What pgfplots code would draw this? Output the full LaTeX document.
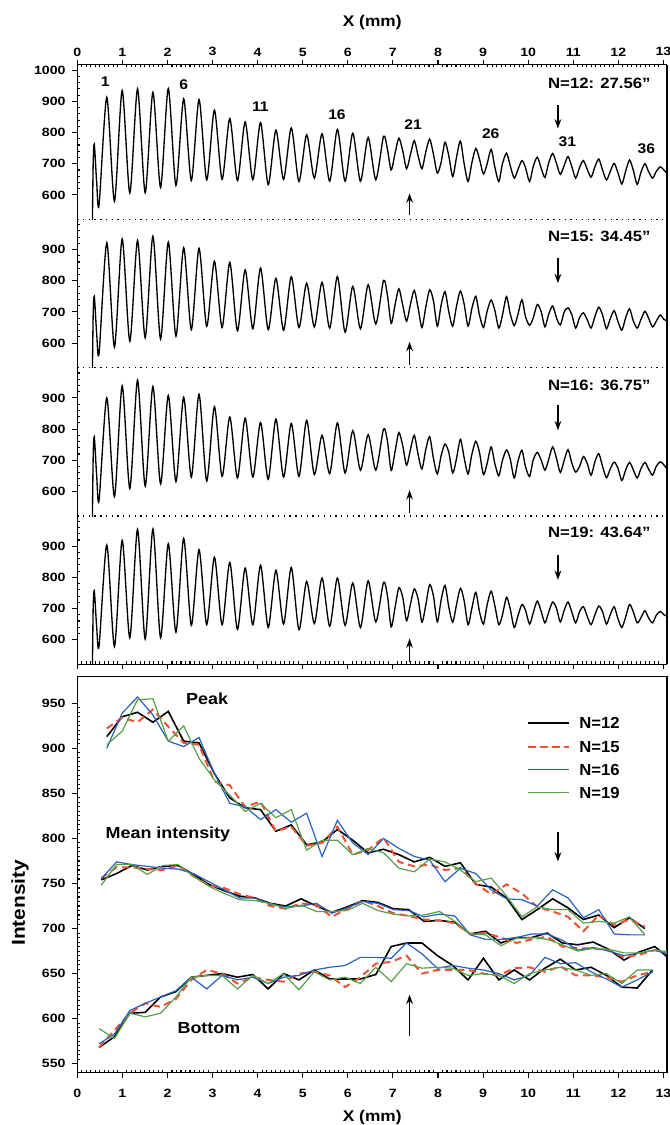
\documentclass[border=0pt]{standalone}
\usepackage{pgfplots}
\pgfplotsset{compat=1.18}
\usepackage{pgfplotstable}
\usepackage{fontspec}
\setmainfont{Liberation Sans}[FakeStretch=1.12]
\newfontfamily\tickfont{Liberation Sans}[FakeStretch=1.18]
\newfontfamily\legfont{Liberation Sans}[FakeStretch=1.04]
\usetikzlibrary{arrows.meta}
\definecolor{cred}{RGB}{238,82,52}
\definecolor{cblue}{RGB}{38,98,188}
\definecolor{cgreen}{RGB}{88,160,72}

% oscillation profiles: a = N12, b = N15, c = N16, d = N19
\pgfplotstableread{
x a b c d
0.333 480 480 480 480
0.352 700 690 710 700
0.377 763 750 775 758
0.430 640 630 650 640
0.483 568 568 572 580
0.654 913 922 900 904
0.824 580 587 583 578
0.995 935 934 939 919
1.165 606 606 609 606
1.336 940 929 957 954
1.506 607 617 617 602
1.677 929 943 937 955
1.847 624 613 624 606
2.018 941 924 908 908
2.188 630 622 631 624
2.359 908 906 902 925
2.529 646 643 646 646
2.700 906 904 912 889
2.870 648 654 633 648
3.041 872 863 872 865
3.211 650 650 648 648
3.382 845 859 839 848
3.552 646 639 643 633
3.723 834 835 835 830
3.893 649 646 646 648
4.064 832 841 821 839
4.234 633 643 639 639
4.405 808 808 832 823
4.575 650 641 646 650
4.746 815 813 818 832
4.916 643 650 648 632
5.087 793 792 828 787
5.257 654 652 654 652
5.428 796 795 780 798
5.598 644 648 657 643
5.769 810 813 820 798
5.939 644 635 659 646
6.110 798 782 795 782
6.280 644 646 668 639
6.451 784 787 782 789
6.621 649 661 668 657
6.792 788 801 800 784
6.880 745 752 760 740
6.962 680 663 667 641
7.050 735 725 730 705
7.133 782 774 789 767
7.220 740 720 745 735
7.303 684 670 684 661
7.390 730 725 735 715
7.474 774 769 780 763
7.560 725 712 718 730
7.644 684 650 672 656
7.730 738 716 735 712
7.815 779 771 776 777
7.900 730 735 705 740
7.985 670 654 656 657
8.070 705 722 715 728
8.156 769 765 752 774
8.240 725 700 725 705
8.326 659 654 659 656
8.410 720 718 705 712
8.497 773 767 767 765
8.580 700 725 708 725
8.667 643 654 656 648
8.750 702 710 718 700
8.838 749 750 761 752
8.920 715 690 725 690
9.008 667 650 654 650
9.090 700 702 690 712
9.179 746 738 743 756
9.260 690 705 690 710
9.349 643 648 650 648
9.430 700 690 700 680
9.520 734 749 733 736
9.600 695 695 705 700
9.690 654 656 643 639
9.770 680 690 695 675
9.861 710 739 732 713
9.940 688 685 680 695
10.031 643 657 648 650
10.110 690 680 700 685
10.202 721 724 725 724
10.290 685 700 700 690
10.372 656 652 668 654
10.450 700 690 700 686
10.543 733 719 743 721
10.630 700 680 705 700
10.713 666 658 661 657
10.800 695 700 700 695
10.884 723 713 734 721
10.970 690 690 690 688
11.054 654 648 662 654
11.140 688 682 680 690
11.225 710 697 712 706
11.310 682 675 690 675
11.395 657 648 652 648
11.480 690 685 695 680
11.566 715 715 721 708
11.650 680 690 680 690
11.736 648 646 644 650
11.820 675 678 672 680
11.907 701 704 694 706
11.990 672 670 675 668
12.077 635 641 635 639
12.160 675 680 668 672
12.248 712 710 693 713
12.330 680 672 670 690
12.418 634 648 643 654
12.500 672 675 672 670
12.589 700 702 693 693
12.670 675 680 672 670
12.759 654 652 652 654
12.840 675 670 680 678
12.930 690 690 695 691
13.010 680 676 685 680
13.100 665 670 668 675
}\wave

\pgfplotstableread{
x k r b g
0.654 913 922 900 904
0.995 935 934 939 919
1.336 940 929 957 954
1.677 929 943 937 955
2.018 941 924 908 908
2.359 908 906 902 925
2.700 906 904 912 889
3.041 872 863 872 865
3.382 845 859 839 848
3.723 834 835 835 830
4.064 832 841 821 839
4.405 808 808 832 823
4.746 815 813 818 832
5.087 793 792 828 787
5.428 796 795 780 798
5.769 810 813 820 798
6.110 798 782 795 782
6.451 784 787 782 789
6.792 788 801 800 784
7.133 782 774 789 767
7.474 774 769 780 763
7.815 779 771 776 777
8.156 769 765 752 774
8.497 773 767 767 765
8.838 749 750 761 752
9.179 746 738 743 756
9.520 734 749 733 736
9.861 710 739 732 713
10.202 721 724 725 724
10.543 733 719 743 721
10.884 723 713 734 721
11.225 710 697 712 706
11.566 715 715 721 708
11.907 701 704 694 706
12.248 712 710 693 713
12.589 700 702 693 693
}\peaks

\pgfplotstableread{
x k r b g
0.483 568 568 572 589
0.824 580 587 583 578
1.165 606 606 609 606
1.506 607 617 617 602
1.847 624 613 624 606
2.188 630 622 631 624
2.529 646 643 646 646
2.870 648 654 633 648
3.211 650 650 648 648
3.552 646 639 643 633
3.893 649 646 646 648
4.234 633 643 639 639
4.575 650 641 646 650
4.916 643 650 648 632
5.257 654 652 654 652
5.598 644 648 657 643
5.939 644 635 659 646
6.280 644 646 668 639
6.621 649 661 668 657
6.962 680 663 667 641
7.303 684 670 684 661
7.644 684 650 672 656
7.985 670 654 656 657
8.326 659 654 659 656
8.667 643 654 656 648
9.008 667 650 654 650
9.349 643 648 650 648
9.690 654 656 643 639
10.031 643 657 648 650
10.372 656 652 668 654
10.713 666 658 661 657
11.054 654 648 662 654
11.395 657 648 652 648
11.736 648 646 644 650
12.077 635 641 635 639
12.418 634 648 643 654
12.759 654 652 652 654
}\troughs

\pgfplotstableread{
x k r b g
0.530 754 756 755 748
0.871 761 768 774 771
1.212 770 768 771 771
1.553 765 766 769 760
1.894 769 765 767 770
2.235 770 770 766 771
2.576 760 758 761 758
2.917 749 748 752 747
3.258 742 745 743 739
3.599 736 738 734 732
3.940 734 734 734 731
4.281 728 725 727 728
4.622 725 722 724 722
4.963 733 728 725 726
5.304 725 726 728 719
5.645 718 713 717 719
5.986 724 722 723 720
6.327 731 731 730 728
6.668 729 725 728 720
7.009 722 717 721 716
7.350 721 714 720 714
7.691 708 710 713 715
8.032 709 709 716 719
8.373 707 706 714 708
8.714 694 694 693 694
9.055 697 695 688 693
9.396 684 690 688 681
9.737 690 684 690 689
10.078 690 688 694 690
10.419 695 691 694 688
10.760 684 680 687 682
11.101 682 678 676 675
11.442 685 678 679 678
11.783 677 676 675 677
12.124 665 668 670 673
12.465 674 671 673 673
12.806 680 676 676 676
13.147 666 672 671 674
}\means

\tikzset{
  dotsep/.style={line width=1pt, dash pattern=on 1pt off 3.3pt},
  arr/.style={line width=1.2pt, -{Stealth[length=7pt,width=5pt]}},
  nlab/.style={anchor=east, font=\bfseries\fontsize{11.2}{13}\selectfont},
  plab/.style={font=\bfseries\fontsize{10.5}{12}\selectfont},
  legtxt/.style={anchor=west, inner sep=0pt, font=\legfont\bfseries\fontsize{12}{14}\selectfont},
  sk/.style={black, line width=1.2pt},
  sr/.style={cred, line width=1.5pt, dash pattern=on 5.5pt off 3.5pt},
  sb/.style={cblue, line width=0.9pt},
  sg/.style={cgreen, line width=0.9pt},
}
\newcommand{\dq}{{\char34}}
\pgfplotsset{
  common/.style={
    scale only axis, width=442.3pt, xmin=0, xmax=13.08,
    xtick={0,...,13}, minor x tick num=9,
    tick align=outside, major tick length=3.75pt, minor tick length=-2.2pt,
    tick style={line width=0.8pt, black},
    axis line style={line width=1pt},
    tick label style={font=\tickfont\bfseries\fontsize{9}{10}\selectfont},
    yticklabel style={xshift=-1.5pt},
    /pgf/number format/assume math mode=true,
    /pgf/number format/1000 sep={},
    clip mode=individual,
    ytick pos=left,
  },
  panel/.style={
    common,
    separate axis lines, x axis line style={draw=none},
    ytick={600,700,800,900,1000}, minor y tick num=4,
  },
  wave/.style={line width=1pt, black, smooth, tension=0.45},
}

\begin{document}
\begin{tikzpicture}
% ---------- panel 1 ----------
\begin{axis}[panel, at={(0pt,-48.375pt)}, anchor=north west, height=116.1pt,
  ymin=522, ymax=1018, xtick pos=right, xticklabel pos=right,
  xticklabel style={yshift=-1pt}]
\addplot[wave] table[x=x,y=a] {\wave};
\draw[line width=1pt] (rel axis cs:0,1) -- (rel axis cs:1,1);
\draw[dotsep] (rel axis cs:0,0) -- (rel axis cs:1,0);
\node[nlab] at (axis cs:12.82,957) {N=12: 27.56\dq};
\node[plab] at (axis cs:0.62,963) {1};
\node[plab] at (axis cs:2.36,952) {6};
\node[plab] at (axis cs:4.06,882) {11};
\node[plab] at (axis cs:5.76,856) {16};
\node[plab] at (axis cs:7.45,827) {21};
\node[plab] at (axis cs:9.17,797) {26};
\node[plab] at (axis cs:10.87,770) {31};
\node[plab] at (axis cs:12.62,749) {36};
\draw[arr] (axis cs:10.66,888) -- (axis cs:10.66,813);
\draw[arr] (axis cs:7.37,535) -- (axis cs:7.37,605);
\end{axis}
% ---------- panel 2 ----------
\begin{axis}[panel, at={(0pt,-164.475pt)}, anchor=north west, height=111.3pt,
  ymin=521, ymax=997, xtick=\empty]
\addplot[wave] table[x=x,y=b] {\wave};
\draw[dotsep] (rel axis cs:0,0) -- (rel axis cs:1,0);
\node[nlab] at (axis cs:12.82,943) {N=15: 34.45\dq};
\draw[arr] (axis cs:10.66,873) -- (axis cs:10.66,792);
\draw[arr] (axis cs:7.37,529) -- (axis cs:7.37,604);
\end{axis}
% ---------- panel 3 ----------
\begin{axis}[panel, at={(0pt,-275.775pt)}, anchor=north west, height=111.225pt,
  ymin=521, ymax=997, xtick=\empty]
\addplot[wave] table[x=x,y=c] {\wave};
\draw[dotsep] (rel axis cs:0,0) -- (rel axis cs:1,0);
\node[nlab] at (axis cs:12.82,940) {N=16: 36.75\dq};
\draw[arr] (axis cs:10.66,877) -- (axis cs:10.66,796);
\draw[arr] (axis cs:7.37,530) -- (axis cs:7.37,604);
\end{axis}
% ---------- panel 4 ----------
\begin{axis}[panel, at={(0pt,-387pt)}, anchor=north west, height=111.225pt,
  ymin=521, ymax=997, xtick pos=left, xticklabels={}]
\addplot[wave] table[x=x,y=d] {\wave};
\draw[line width=1pt] (rel axis cs:0,0) -- (rel axis cs:1,0);
\node[nlab] at (axis cs:12.82,944) {N=19: 43.64\dq};
\draw[arr] (axis cs:10.66,872) -- (axis cs:10.66,792);
\draw[arr] (axis cs:7.37,530) -- (axis cs:7.37,604);
\end{axis}
% ---------- summary panel ----------
\begin{axis}[common, at={(0pt,-507.525pt)}, anchor=north west, height=297pt,
  ymin=540, ymax=979.5, ytick={550,600,...,950}, minor y tick num=9,
  xtick pos=left, xticklabel style={yshift=-5pt}]
\addplot[sk] table[x=x,y=k] {\peaks};
\addplot[sr] table[x=x,y=r] {\peaks};
\addplot[sb] table[x=x,y=b] {\peaks};
\addplot[sg] table[x=x,y=g] {\peaks};
\addplot[sk] table[x=x,y=k] {\means};
\addplot[sr] table[x=x,y=r] {\means};
\addplot[sb] table[x=x,y=b] {\means};
\addplot[sg] table[x=x,y=g] {\means};
\addplot[sk] table[x=x,y=k] {\troughs};
\addplot[sr] table[x=x,y=r] {\troughs};
\addplot[sb] table[x=x,y=b] {\troughs};
\addplot[sg] table[x=x,y=g] {\troughs};
% legend
\draw[sk] (axis cs:10.0,927.8) -- (axis cs:10.91,927.8);
\node[legtxt] at (axis cs:11.13,927.8) {N=12};
\draw[sr] (axis cs:10.0,901.9) -- (axis cs:10.91,901.9);
\node[legtxt] at (axis cs:11.13,901.9) {N=15};
\draw[sb] (axis cs:10.0,876.1) -- (axis cs:10.91,876.1);
\node[legtxt] at (axis cs:11.13,876.1) {N=16};
\draw[sg] (axis cs:10.0,850.9) -- (axis cs:10.91,850.9);
\node[legtxt] at (axis cs:11.13,850.9) {N=19};
\node[font=\bfseries\fontsize{12}{14}\selectfont] at (axis cs:2.88,955.5) {Peak};
\node[font=\bfseries\fontsize{12}{14}\selectfont] at (axis cs:2.01,804) {Mean intensity};
\node[font=\bfseries\fontsize{12}{14}\selectfont] at (axis cs:2.92,589.7) {Bottom};
\draw[arr] (axis cs:10.66,807.6) -- (axis cs:10.66,774.4);
\draw[arr] (axis cs:7.37,580.4) -- (axis cs:7.37,626.6);
\end{axis}
% axis titles
\node[anchor=base, font=\bfseries\fontsize{11.6}{13}\selectfont] at (221.2pt,-19.55pt) {X (mm)};
\node[anchor=base, font=\bfseries\fontsize{11.6}{13}\selectfont] at (221.2pt,-841.2pt) {X (mm)};
\node[rotate=90, font=\bfseries\fontsize{14}{16}\selectfont] at (-43pt,-677pt) {Intensity};
\pgfresetboundingbox
\useasboundingbox (-57.975pt,0pt) rectangle (443.775pt,-843.75pt);
\end{tikzpicture}
\end{document}
